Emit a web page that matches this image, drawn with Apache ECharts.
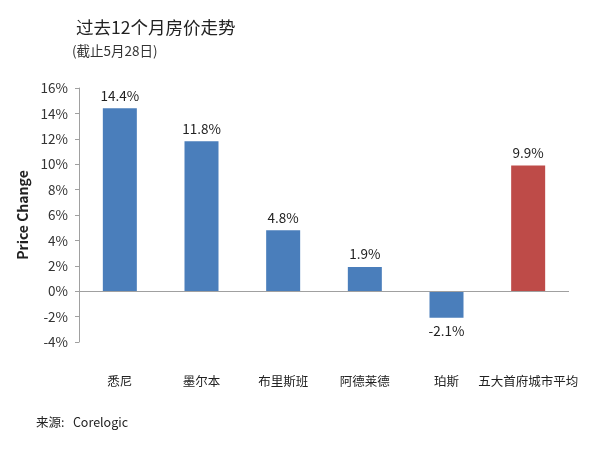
<!DOCTYPE html>
<html><head><meta charset="utf-8">
<script src="https://cdn.jsdelivr.net/npm/echarts@6/dist/echarts.min.js"></script>
<style>html,body{margin:0;padding:0;background:#fff}#c{width:604px;height:452px}</style>
</head><body><div id="c"></div>
<script>
var categories = ['悉尼','墨尔本','布里斯班','阿德莱德','珀斯','五大首府城市平均'];
var values = [14.4, 11.8, 4.8, 1.9, -2.1, 9.9];
var colors = ['#4a7ebb','#4a7ebb','#4a7ebb','#4a7ebb','#4a7ebb','#be4b48'];
var yTicks = {min: -4, max: 16, interval: 2};

var chart = echarts.init(document.getElementById('c'));
var F = '"Noto Sans CJK SC", "Liberation Sans", sans-serif';
chart.setOption({
  animation: false,
  textStyle: {fontFamily: F},
  graphic: [
    {type:'text', left: 76, top: 19, style:{text:'过去12个月房价走势', font:'17.5px '+F, fill:'#222'}},
    {type:'text', left: 72, top: 44, style:{text:'(截止5月28日)', font:'13.5px '+F, fill:'#333'}},
    {type:'text', left: 36, top: 416, style:{text:'来源:   Corelogic', font:'12.5px '+F, fill:'#222'}}
  ],
  grid: {left: 79, right: 35, top: 88, bottom: 110},
  xAxis: {
    type: 'category', data: categories,
    axisLine: {show: false, onZero: false},
    axisTick: {show: false},
    axisLabel: {interval: 0, margin: 33, fontSize: 12.5, color: '#222', fontFamily: F}
  },
  yAxis: {
    type: 'value', min: yTicks.min, max: yTicks.max, interval: yTicks.interval,
    name: 'Price Change', nameLocation: 'middle', nameGap: 47,
    nameTextStyle: {fontSize: 14, fontWeight: 'bold', color: '#222', fontFamily: F},
    axisLine: {show: true, lineStyle: {color: '#a0a0a0'}},
    axisTick: {show: true, length: 4, lineStyle: {color: '#a0a0a0'}},
    splitLine: {show: false},
    axisLabel: {formatter: '{value}%', fontSize: 13.5, color: '#333', margin: 11, fontFamily: F}
  },
  series: [{
    type: 'bar', barWidth: 34,
    data: values.map(function(v, i){
      return {value: v, itemStyle: {color: colors[i]}, label: {position: v < 0 ? 'bottom' : 'top'}};
    }),
    label: {show: true, distance: 6, fontSize: 13.5, color: '#222', fontFamily: F,
      formatter: function(p){ return p.value.toFixed(1) + '%'; }},
    markLine: {silent: true, symbol: 'none', label: {show: false},
      lineStyle: {color: '#a0a0a0', type: 'solid', width: 1},
      data: [{yAxis: 0}]}
  }]
});
</script></body></html>
